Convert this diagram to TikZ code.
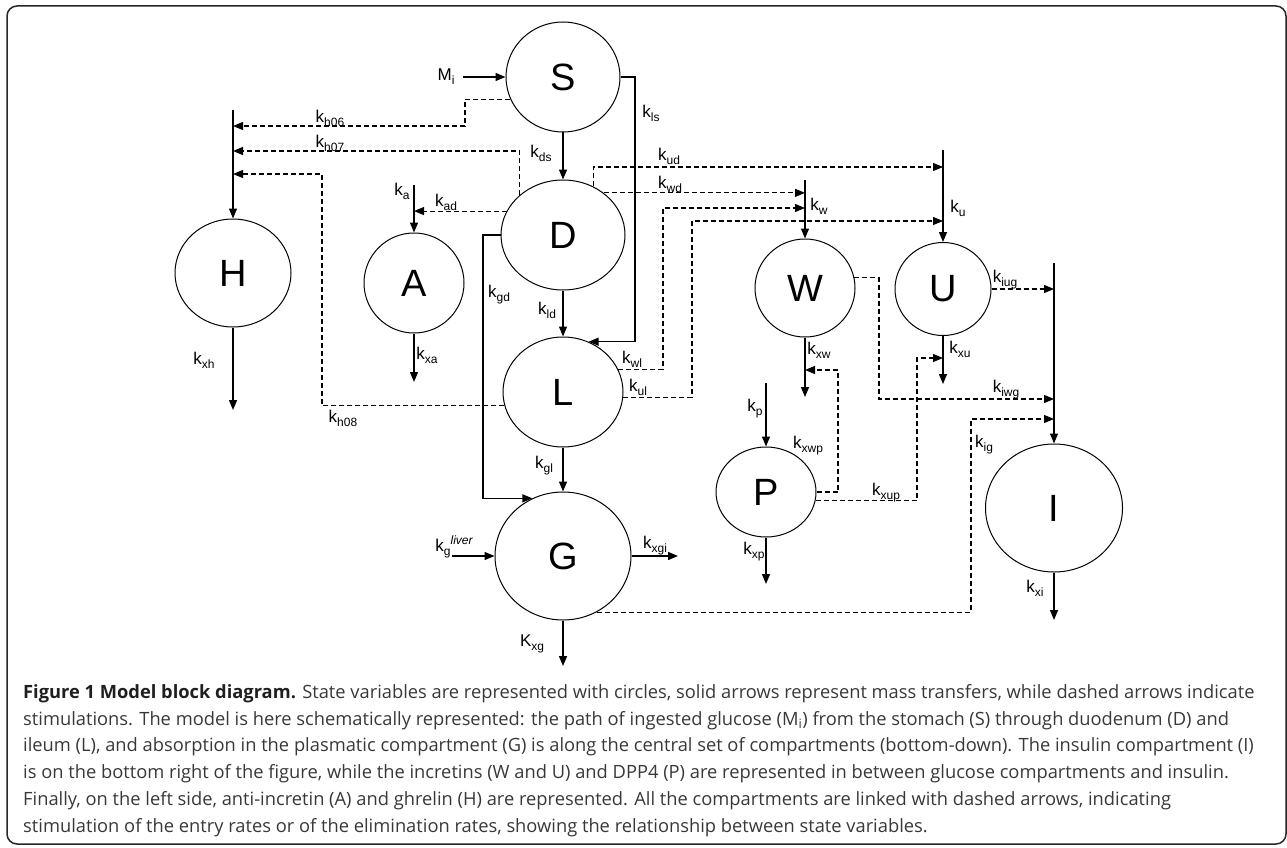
\documentclass[tikz,border=0pt]{standalone}
\usepackage{fontspec}
\setmainfont{Liberation Sans}
\newfontfamily\capfont{Open Sans}
\usetikzlibrary{shapes.geometric,arrows.meta}

\newcommand{\rt}[2]{#1\raisebox{-4pt}{\fontsize{12}{12}\selectfont #2}}

\tikzset{
  comp/.style={draw, ellipse, inner sep=0pt, line width=1pt, font=\fontsize{38}{40}\selectfont},
  flow/.style={line width=1.4pt, -{Triangle[length=10pt,width=8pt]}},
  stim/.style={line width=1.1pt, dash pattern=on 5pt off 3pt, -{Triangle[length=10pt,width=8pt]}},
  lbl/.style={font=\fontsize{17}{18}\selectfont, inner sep=0pt}
}

\begin{document}
\begin{tikzpicture}[x=1pt, y=-1pt, line join=miter]
  \useasboundingbox (0,0) rectangle (1287,848);
  \draw[line width=1.5pt, black!85, rounded corners=10pt] (7,6) rectangle (1286,844);

  % compartments
  \node[comp, minimum width=114pt, minimum height=110pt] (S) at (563,77) {S};
  \node[comp, minimum width=124pt, minimum height=110pt] (D) at (563,235) {D};
  \node[comp, minimum width=120pt, minimum height=110pt] (L) at (563,392) {L};
  \node[comp, minimum width=136pt, minimum height=128pt] (G) at (563,556) {G};
  \node[comp, minimum width=116pt, minimum height=108pt] (H) at (233,273) {H};
  \node[comp, minimum width=100pt, minimum height=100pt] (A) at (414,283) {A};
  \node[comp, minimum width=100pt, minimum height=98pt] (W) at (805,288) {W};
  \node[comp, minimum width=96pt, minimum height=93pt] (U) at (943,289) {U};
  \node[comp, minimum width=100pt, minimum height=90pt] (P) at (766,492) {P};
  \node[comp, minimum width=137pt, minimum height=128pt] (I) at (1054,508) {I};

  % free ends
  \coordinate (mi) at (463,77);
  \coordinate (hin) at (233,110);
  \coordinate (xh) at (233,410);
  \coordinate (ka) at (414,185);
  \coordinate (xa) at (414,382);
  \coordinate (lsx) at (635,77);
  \coordinate (gdx) at (483,300);
  \coordinate (gliv) at (452,556);
  \coordinate (xgi) at (678,556);
  \coordinate (xg) at (563,666);
  \coordinate (kw) at (805,180);
  \coordinate (ku) at (943,150);
  \coordinate (xw) at (805,397);
  \coordinate (xu) at (943,384);
  \coordinate (kp) at (766,383);
  \coordinate (xp) at (766,584);
  \coordinate (iin) at (1054,263);
  \coordinate (xi) at (1054,620);
  \coordinate (c06) at (465,126);
  \coordinate (h06) at (233,126);
  \coordinate (h07) at (233,151);
  \coordinate (c08) at (322,174);
  \coordinate (h08) at (233,174);
  \coordinate (ud) at (943,167);
  \coordinate (wlc) at (663,208);
  \coordinate (wl) at (805,208);
  \coordinate (ulc) at (692,221);
  \coordinate (ul) at (943,221);
  \coordinate (xwpc) at (838,370);
  \coordinate (xwp) at (805,370);
  \coordinate (xupc) at (917,358);
  \coordinate (xup) at (943,358);
  \coordinate (iug) at (1054,289);
  \coordinate (iwgc) at (879,399);
  \coordinate (iwg) at (1054,399);
  \coordinate (igc) at (971,419);
  \coordinate (ig) at (1054,419);

  % mass transfers
  \draw[flow] (mi) -- (S.west);
  \draw[flow] (S.south) -- (D.north);
  \draw[flow] (D.south) -- (L.north);
  \draw[flow] (L.south) -- (G.north);
  \draw[flow] (S.east) -- (lsx) |- (L.63);
  \draw[flow] (D.west) -| (gdx) |- (G.118);
  \draw[flow] (gliv) -- (G.west);
  \draw[flow] (G.east) -- (xgi);
  \draw[flow] (G.south) -- (xg);
  \draw[flow] (hin) -- (H.north);
  \draw[flow] (H.south) -- (xh);
  \draw[flow] (ka) -- (A.north);
  \draw[flow] (A.south) -- (xa);
  \draw[flow] (kw) -- (W.north);
  \draw[flow] (W.south) -- (xw);
  \draw[flow] (ku) -- (U.north);
  \draw[flow] (U.south) -- (xu);
  \draw[flow] (kp) -- (P.north);
  \draw[flow] (P.south) -- (xp);
  \draw[flow] (iin) -- (I.north);
  \draw[flow] (I.south) -- (xi);

  % stimulations
  \draw[stim] (S.203) -| (c06) -- (h06);
  \draw[stim] (D.137) |- (h07);
  \draw[stim] (L.193) -| (c08) -- (h08);
  \draw[stim] (D.157) -- (D.157 -| ka);
  \draw[stim] (D.58) |- (ud);
  \draw[stim] (D.46) -- (D.46 -| kw);
  \draw[stim] (L.22) -| (wlc) -- (wl);
  \draw[stim] (L.355) -| (ulc) -- (ul);
  \draw[stim] (P.east) -| (xwpc) -- (xwp);
  \draw[stim] (P.350) -| (xupc) -- (xup);
  \draw[stim] (U.east) -- (iug);
  \draw[stim] (W.12) -| (iwgc) -- (iwg);
  \draw[stim] (G.301) -| (igc) -- (ig);

  % rate labels
  \node[lbl] (lmi) at (446,77) {\rt{M}{i}};
  \node[lbl] (lds) at (541,153) {\rt{k}{ds}};
  \node[lbl] (lls) at (651,113) {\rt{k}{ls}};
  \node[lbl] (lh06) at (330,118) {\rt{k}{h06}};
  \node[lbl] (lh07) at (330,143) {\rt{k}{h07}};
  \node[lbl] (lh08) at (343,418) {\rt{k}{h08}};
  \node[lbl] (la) at (402,191) {\rt{k}{a}};
  \node[lbl] (lad) at (446,202) {\rt{k}{ad}};
  \node[lbl] (lgd) at (499,295) {\rt{k}{gd}};
  \node[lbl] (lld) at (547,310) {\rt{k}{ld}};
  \node[lbl] (lxh) at (204,360) {\rt{k}{xh}};
  \node[lbl] (lxa) at (427,355) {\rt{k}{xa}};
  \node[lbl] (lud) at (669,156) {\rt{k}{ud}};
  \node[lbl] (lwd) at (670,184) {\rt{k}{wd}};
  \node[lbl] (lw) at (819,206) {\rt{k}{w}};
  \node[lbl] (lu) at (958,208) {\rt{k}{u}};
  \node[lbl] (lxw) at (819,350) {\rt{k}{xw}};
  \node[lbl] (lxu) at (960,349) {\rt{k}{xu}};
  \node[lbl] (liug) at (1005,280) {\rt{k}{iug}};
  \node[lbl] (liwg) at (1006,390) {\rt{k}{iwg}};
  \node[lbl] (lig) at (984,445) {\rt{k}{ig}};
  \node[lbl] (lwl) at (632,359) {\rt{k}{wl}};
  \node[lbl] (lul) at (638,387) {\rt{k}{ul}};
  \node[lbl] (lgl) at (544,466) {\rt{k}{gl}};
  \node[lbl] (lliv) at (454,547) {\rt{k}{g}\raisebox{7pt}{\fontsize{12}{12}\selectfont\itshape liver}};
  \node[lbl] (lxgi) at (655,546) {\rt{k}{xgi}};
  \node[lbl] (lxg) at (532,644) {\rt{K}{xg}};
  \node[lbl] (lp) at (755,409) {\rt{k}{p}};
  \node[lbl] (lxp) at (754,552) {\rt{k}{xp}};
  \node[lbl] (lxwp) at (808,446) {\rt{k}{xwp}};
  \node[lbl] (lxup) at (886,493) {\rt{k}{xup}};
  \node[lbl] (lxi) at (1035,588) {\rt{k}{xi}};

  % caption
  \node[anchor=north west, align=left, inner sep=0pt, text=black!78,
        font=\capfont\fontsize{18.3}{26.8}\selectfont] (cap) at (23,684)
    {\textcolor{black!88}{\textbf{Figure 1 Model block diagram.}} State variables are represented with circles, solid arrows represent mass transfers, while dashed arrows indicate\\
     stimulations. The model is here schematically represented: the path of ingested glucose (M\textsubscript{i}) from the stomach (S) through duodenum (D) and\\
     ileum (L), and absorption in the plasmatic compartment (G) is along the central set of compartments (bottom-down). The insulin compartment (I)\\
     is on the bottom right of the figure, while the incretins (W and U) and DPP4 (P) are represented in between glucose compartments and insulin.\\
     Finally, on the left side, anti-incretin (A) and ghrelin (H) are represented. All the compartments are linked with dashed arrows, indicating\\
     stimulation of the entry rates or of the elimination rates, showing the relationship between state variables.};
\end{tikzpicture}
\end{document}
